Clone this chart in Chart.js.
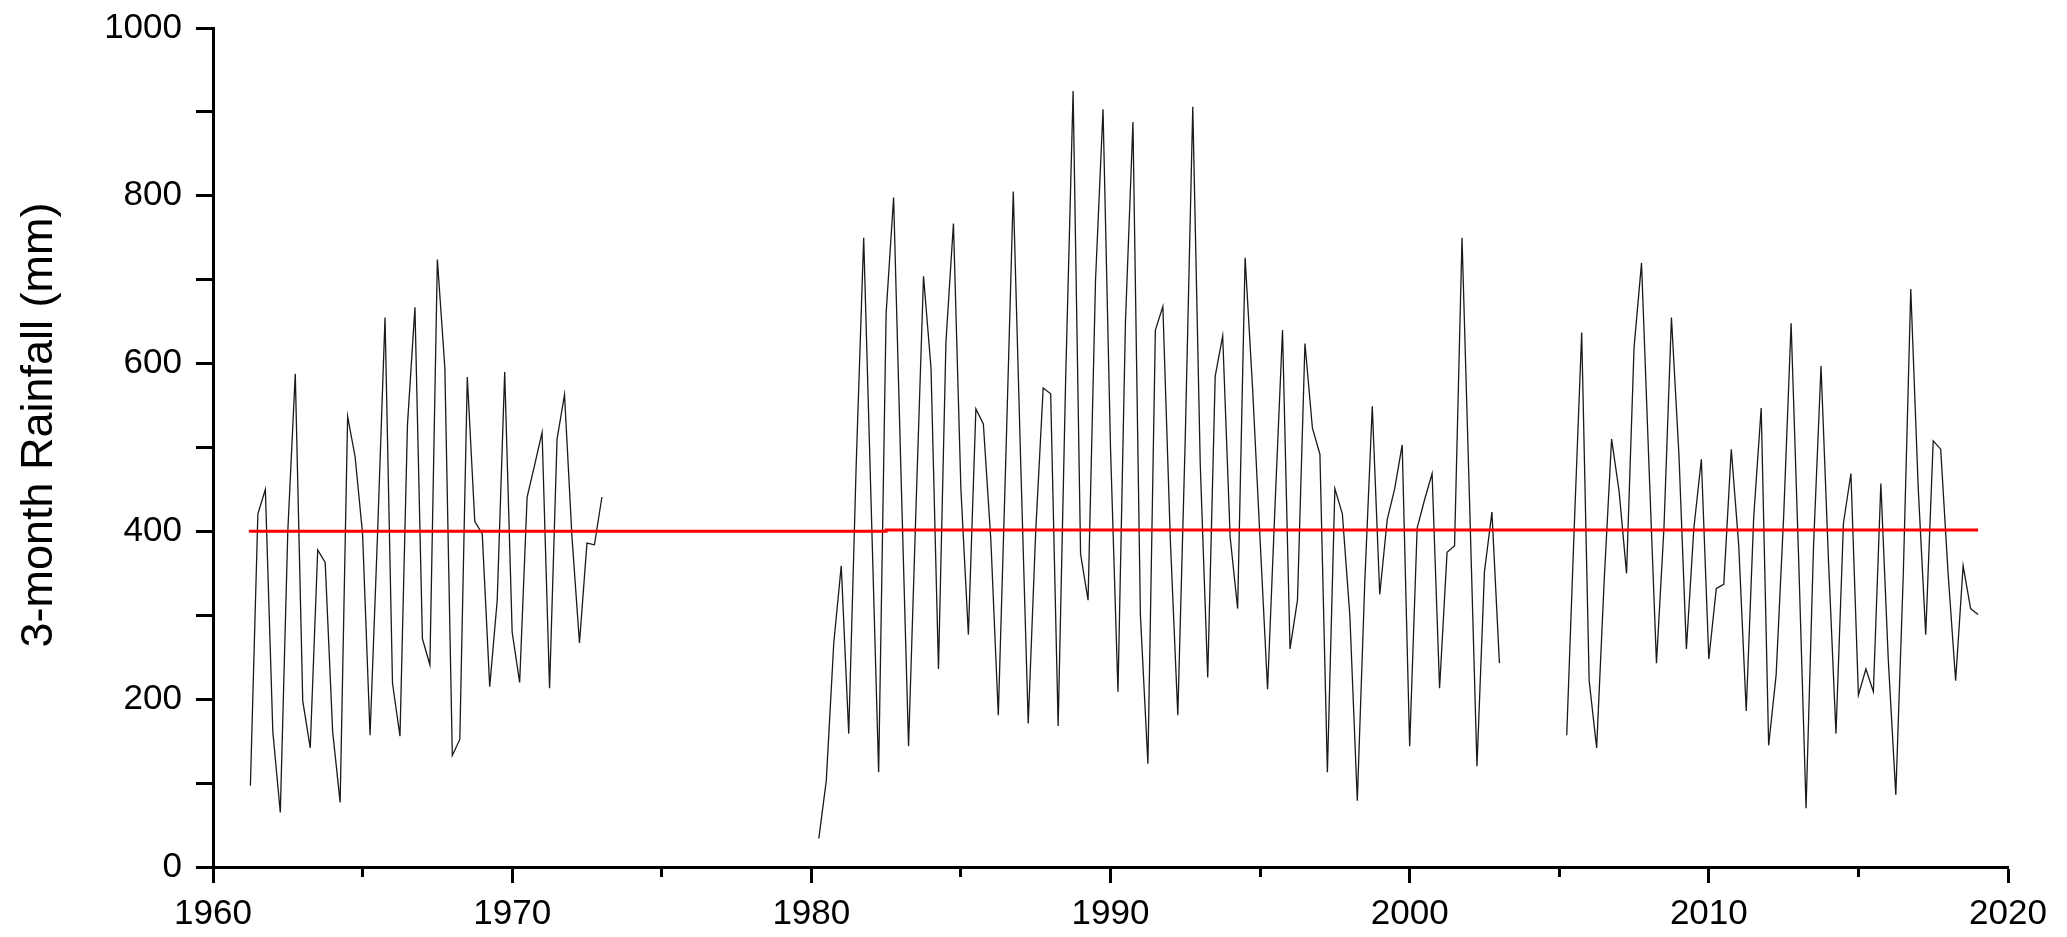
<!DOCTYPE html>
<html>
<head>
<meta charset="utf-8">
<script src="https://cdn.jsdelivr.net/npm/chart.js@4"></script>
<style>
  html, body { margin: 0; padding: 0; background: #fff; }
  canvas { display: block; }
</style>
</head>
<body>
<canvas id="c" width="2067" height="937"></canvas>
<script>
// ---- Data (3-month rainfall, quarterly) ----
const seg1Start = 1961.25;
const seg1Values = [97, 421, 450,
  161, 65, 400, 588,
  198, 142, 378, 363,
  161, 77, 537, 489,
  397, 157, 397, 655,
  219, 156, 527, 667,
  272, 241, 724, 595,
  133, 152, 584, 412,
  397, 215, 318, 590,
  280, 220, 441, 479,
  518, 213, 510, 563,
  393, 267, 386, 384,
  441];

const seg2Start = 1980.25;
const seg2Values = [34, 103, 267,
  359, 159, 480, 750,
  431, 113, 660, 798,
  465, 144, 430, 704,
  595, 236, 626, 767,
  450, 277, 546, 528,
  390, 181, 486, 805,
  480, 171, 400, 571,
  564, 168, 580, 925,
  373, 318, 700, 903,
  500, 209, 650, 888,
  300, 123, 640, 668,
  390, 181, 513, 906,
  480, 226, 585, 633,
  393, 308, 726, 570,
  390, 212, 431, 640,
  260, 318, 624, 523,
  492, 113, 451, 421,
  300, 79, 340, 549,
  325, 414, 451, 503,
  144, 404, 438, 469,
  213, 375, 383, 750,
  438, 120, 352, 423,
  243];

const seg3Start = 2005.25;
const seg3Values = [157, 404, 637,
  222, 142, 340, 510,
  448, 350, 619, 720,
  478, 243, 404, 655,
  492, 260, 404, 486,
  248, 332, 337, 498,
  383, 186, 417, 547,
  145, 229, 417, 648,
  370, 70, 383, 597,
  365, 159, 410, 469,
  205, 236, 209, 457,
  246, 86, 349, 689,
  451, 277, 508, 498,
  349, 222, 359, 308,
  301];

// Mean level (red), step changes
const meanYears = [1961.25, 1982.5, 1999.75, 2019.0];
const meanValues = [398.8, 400.2, 401.6, 401.6];

const xTickLabels = [1960, 1970, 1980, 1990, 2000, 2010, 2020];
const yTickLabels = [0, 200, 400, 600, 800, 1000];

// ---- Build point lists ----
function segPoints(start, vals) {
  return vals.map((v, i) => ({ x: start + i * 0.25, y: v }));
}
const rainPoints = []
  .concat(segPoints(seg1Start, seg1Values))
  .concat([{ x: seg1Start + seg1Values.length * 0.25, y: null }])
  .concat(segPoints(seg2Start, seg2Values))
  .concat([{ x: seg2Start + seg2Values.length * 0.25, y: null }])
  .concat(segPoints(seg3Start, seg3Values));
const meanPoints = meanYears.map((x, i) => ({ x: x, y: meanValues[i] }));

const FONT = '"Liberation Sans", Arial, sans-serif';

const yTitlePlugin = {
  id: 'yTitle',
  afterDraw(chart) {
    const ctx = chart.ctx;
    ctx.save();
    ctx.translate(40, 425);
    ctx.rotate(-Math.PI / 2);
    ctx.font = '45px ' + FONT;
    ctx.fillStyle = '#000';
    ctx.textAlign = 'center';
    ctx.textBaseline = 'middle';
    ctx.fillText('3-month Rainfall (mm)', 0, 0);
    ctx.restore();
  }
};

new Chart(document.getElementById('c'), {
  type: 'line',
  data: {
    datasets: [
      {
        data: meanPoints,
        borderColor: '#ff0000',
        borderWidth: 3,
        pointRadius: 0,
        stepped: 'after',
        fill: false,
        order: 0
      },
      {
        data: rainPoints,
        borderColor: '#1a1a1a',
        borderWidth: 1.3,
        pointRadius: 0,
        tension: 0,
        spanGaps: false,
        fill: false,
        order: 1
      }
    ]
  },
  options: {
    responsive: false,
    animation: false,
    events: [],
    layout: { padding: { top: 28, right: 59, left: 0, bottom: 0 } },
    plugins: { legend: { display: false }, tooltip: { enabled: false }, title: { display: false } },
    scales: {
      x: {
        type: 'linear',
        position: 'bottom',
        min: 1960,
        max: 2020,
        afterFit: (s) => { s.height = 70; s.paddingLeft = 0; s.paddingRight = 0; },
        border: { display: true, color: '#000', width: 3 },
        grid: {
          drawOnChartArea: false,
          drawTicks: true,
          tickLength: 16,
          tickWidth: 3,
          tickColor: '#000',
          tickBorderDash: (ctx) => (ctx.tick && xTickLabels.indexOf(ctx.tick.value) < 0) ? [8, 200] : []
        },
        ticks: {
          stepSize: 5,
          autoSkip: false,
          maxRotation: 0,
          padding: 10,
          color: '#000',
          font: { family: FONT, size: 35 },
          callback: (v) => xTickLabels.indexOf(v) >= 0 ? String(v) : ''
        }
      },
      y: {
        min: 0,
        max: 1000,
        afterFit: (s) => { s.width = 213; s.paddingTop = 0; s.paddingBottom = 0; },
        border: { display: true, color: '#000', width: 3 },
        grid: {
          drawOnChartArea: false,
          drawTicks: true,
          tickLength: 17,
          tickWidth: 3,
          tickColor: '#000'
        },
        ticks: {
          stepSize: 100,
          autoSkip: false,
          padding: 14,
          color: '#000',
          font: { family: FONT, size: 35 },
          callback: (v) => yTickLabels.indexOf(v) >= 0 ? String(v) : ''
        }
      }
    }
  },
  plugins: [yTitlePlugin]
});
</script>
</body>
</html>
